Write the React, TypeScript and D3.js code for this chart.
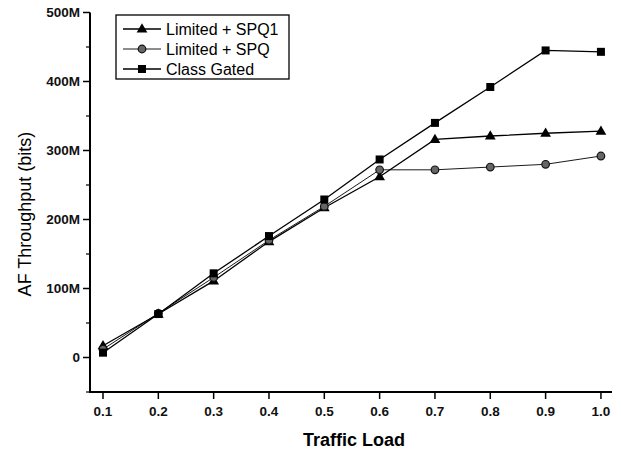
import React from "react";
import * as d3 from "d3";

const loads = [0.1, 0.2, 0.3, 0.4, 0.5, 0.6, 0.7, 0.8, 0.9, 1.0];
const spq1 = [17, 63, 111, 168, 217, 262, 316, 321, 325, 328];
const spq = [12, 64, 116, 170, 219, 272, 272, 276, 280, 292];
const gated = [7, 63, 122, 176, 229, 287, 340, 392, 445, 443];
const xTicks = [0.1, 0.2, 0.3, 0.4, 0.5, 0.6, 0.7, 0.8, 0.9, 1.0];
const yTicks = [0, 100, 200, 300, 400, 500];
const yMinor = [-50, 50, 150, 250, 350, 450];
const seriesNames = ["Limited + SPQ1", "Limited + SPQ", "Class Gated"];

const W = 621, H = 450;
const x = d3.scaleLinear().domain([0.0765, 1.02]).range([90, 612]);
const y = d3.scaleLinear().domain([-50, 500]).range([392, 12.5]);

function Marker({ kind, cx, cy }: { kind: string; cx: number; cy: number }) {
  if (kind === "tri") {
    const p = d3.symbol().type(d3.symbolTriangle).size(50)();
    return <path d={p || ""} transform={`translate(${cx},${cy + 0.5})`} fill="#000" />;
  }
  if (kind === "circ") {
    return <circle cx={cx} cy={cy} r={3.8} fill="#666" stroke="#111" strokeWidth={1.2} />;
  }
  return <rect x={cx - 4} y={cy - 4} width={8} height={8} fill="#000" />;
}

export default function App() {
  const series = [
    { name: seriesNames[0], vals: spq1, kind: "tri", width: 1.3 },
    { name: seriesNames[1], vals: spq, kind: "circ", width: 0.9 },
    { name: seriesNames[2], vals: gated, kind: "sq", width: 1.3 },
  ];
  const line = d3.line<number>().x((_, i) => x(loads[i])).y((v) => y(v));
  const font = "Liberation Sans, Arial, sans-serif";
  return (
    <svg width={W} height={H} style={{ position: "absolute", left: 0, top: 0, background: "#fff" }} fontFamily={font}>
      <rect width={W} height={H} fill="#fff" />
      {/* axes */}
      <line x1={x.range()[0]} x2={x.range()[0]} y1={y.range()[1]} y2={y.range()[0]} stroke="#000" strokeWidth={2} />
      <line x1={x.range()[0] - 1} x2={x.range()[1]} y1={y.range()[0]} y2={y.range()[0]} stroke="#000" strokeWidth={2} />
      {yTicks.map((t) => (
        <g key={"y" + t}>
          <line x1={x.range()[0] - 7} x2={x.range()[0]} y1={y(t)} y2={y(t)} stroke="#000" strokeWidth={1.5} />
          <text x={x.range()[0] - 10} y={y(t)} dy="0.35em" textAnchor="end" fontSize={13.5} fontWeight="bold" fill="#111">
            {t === 0 ? "0" : `${t}M`}
          </text>
        </g>
      ))}
      {yMinor.map((t) => (
        <line key={"ym" + t} x1={x.range()[0] - 4} x2={x.range()[0]} y1={y(t)} y2={y(t)} stroke="#000" strokeWidth={1.2} />
      ))}
      {xTicks.map((t) => (
        <g key={"x" + t}>
          <line x1={x(t)} x2={x(t)} y1={y.range()[0]} y2={y.range()[0] + 7} stroke="#000" strokeWidth={1.5} />
          <text x={x(t)} y={y.range()[0] + 24} textAnchor="middle" fontSize={13.5} fontWeight="bold" fill="#111">
            {t.toFixed(1)}
          </text>
        </g>
      ))}
      <text x={354} y={446} textAnchor="middle" fontSize={18} fontWeight="bold">
        Traffic Load
      </text>
      <text transform={`translate(31,214) rotate(-90)`} textAnchor="middle" fontSize={18}>
        AF Throughput (bits)
      </text>
      {/* lines */}
      {series.map((s) => (
        <path key={s.name} d={line(s.vals) || ""} fill="none" stroke="#000" strokeWidth={s.width} />
      ))}
      {series.map((s) => (
        <g key={s.name + "m"}>
          {s.vals.map((v, i) => (
            <Marker key={i} kind={s.kind} cx={x(loads[i])} cy={y(v)} />
          ))}
        </g>
      ))}
      {/* legend */}
      <rect x={116} y={15} width={173} height={64} fill="#fff" stroke="#000" strokeWidth={1.3} />
      {series.map((s, i) => {
        const cy = 29 + i * 20;
        return (
          <g key={s.name + "l"}>
            <line x1={123} x2={161} y1={cy} y2={cy} stroke="#000" strokeWidth={s.width} />
            <Marker kind={s.kind} cx={142} cy={cy} />
            <text x={166} y={cy} dy="0.36em" fontSize={16} fill="#000">
              {s.name}
            </text>
          </g>
        );
      })}
    </svg>
  );
}
